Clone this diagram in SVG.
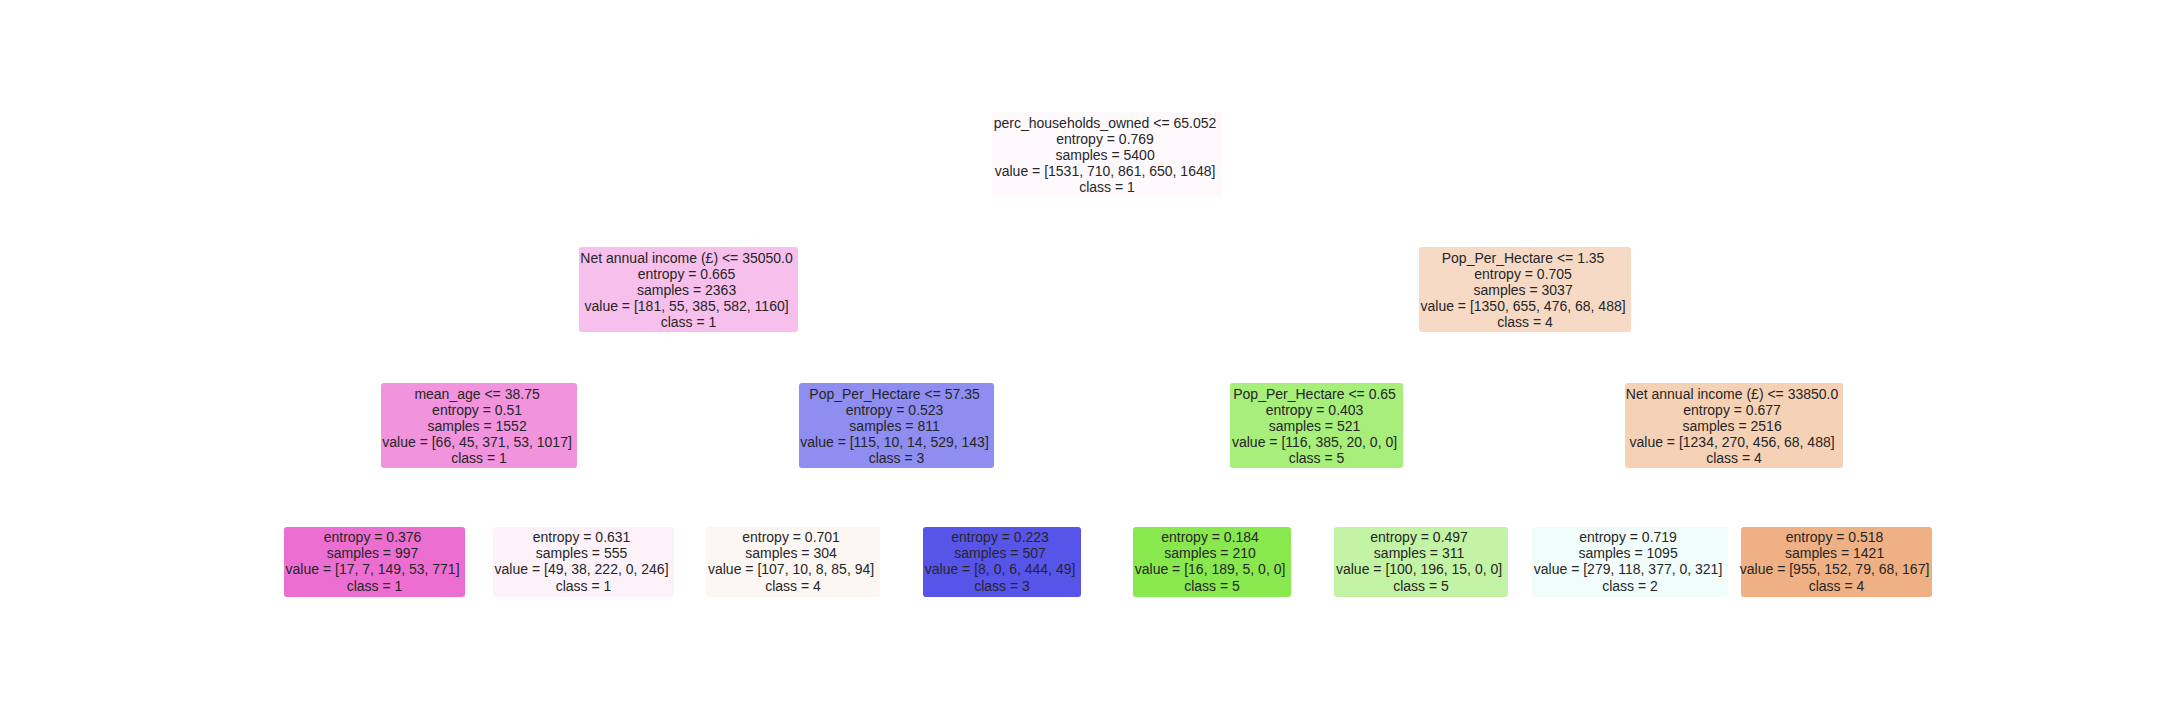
<svg xmlns="http://www.w3.org/2000/svg" width="2160" height="720" viewBox="0 0 2160 720">
  <style>
    .box { stroke: none; }
    .lbl { font-family: "Liberation Sans", Arial, sans-serif; font-size: 14px; fill: #262626; text-anchor: middle; }
  </style>
  <rect width="2160" height="720" fill="#ffffff"/>

  <!-- decision tree (depth 3); no edges are drawn between nodes -->
  <g id="connectors"></g>

  <!-- depth 0 -->
  <g id="node-root">
    <rect class="box" x="992" y="112" width="230" height="85" rx="3" fill="#fef9fd"/>
    <text class="lbl" x="1107" y="127.5">
      <tspan x="1107">perc_households_owned &lt;= 65.052</tspan>
      <tspan x="1107" dy="16.2">entropy = 0.769</tspan>
      <tspan x="1107" dy="16.2">samples = 5400</tspan>
      <tspan x="1107" dy="16.2">value = [1531, 710, 861, 650, 1648]</tspan>
      <tspan x="1107" dy="16.2">class = 1</tspan>
    </text>
  </g>

  <!-- depth 1 -->
  <g id="node-income-35050">
    <rect class="box" x="579" y="247" width="219" height="85" rx="3" fill="#f7bfeb"/>
    <text class="lbl" x="688.5" y="262.5">
      <tspan x="688.5">Net annual income (£) &lt;= 35050.0</tspan>
      <tspan x="688.5" dy="16.2">entropy = 0.665</tspan>
      <tspan x="688.5" dy="16.2">samples = 2363</tspan>
      <tspan x="688.5" dy="16.2">value = [181, 55, 385, 582, 1160]</tspan>
      <tspan x="688.5" dy="16.2">class = 1</tspan>
    </text>
  </g>
  <g id="node-pop-1_35">
    <rect class="box" x="1419" y="247" width="212" height="85" rx="3" fill="#f7dac5"/>
    <text class="lbl" x="1525" y="262.5">
      <tspan x="1525">Pop_Per_Hectare &lt;= 1.35</tspan>
      <tspan x="1525" dy="16.2">entropy = 0.705</tspan>
      <tspan x="1525" dy="16.2">samples = 3037</tspan>
      <tspan x="1525" dy="16.2">value = [1350, 655, 476, 68, 488]</tspan>
      <tspan x="1525" dy="16.2">class = 4</tspan>
    </text>
  </g>

  <!-- depth 2 -->
  <g id="node-mean-age">
    <rect class="box" x="381" y="383" width="196" height="85" rx="3" fill="#f193dd"/>
    <text class="lbl" x="479" y="398.5">
      <tspan x="479">mean_age &lt;= 38.75</tspan>
      <tspan x="479" dy="16.2">entropy = 0.51</tspan>
      <tspan x="479" dy="16.2">samples = 1552</tspan>
      <tspan x="479" dy="16.2">value = [66, 45, 371, 53, 1017]</tspan>
      <tspan x="479" dy="16.2">class = 1</tspan>
    </text>
  </g>
  <g id="node-pop-57_35">
    <rect class="box" x="799" y="383" width="195" height="85" rx="3" fill="#8e8df0"/>
    <text class="lbl" x="896.5" y="398.5">
      <tspan x="896.5">Pop_Per_Hectare &lt;= 57.35</tspan>
      <tspan x="896.5" dy="16.2">entropy = 0.523</tspan>
      <tspan x="896.5" dy="16.2">samples = 811</tspan>
      <tspan x="896.5" dy="16.2">value = [115, 10, 14, 529, 143]</tspan>
      <tspan x="896.5" dy="16.2">class = 3</tspan>
    </text>
  </g>
  <g id="node-pop-0_65">
    <rect class="box" x="1230" y="383" width="173" height="85" rx="3" fill="#a7ee7b"/>
    <text class="lbl" x="1316.5" y="398.5">
      <tspan x="1316.5">Pop_Per_Hectare &lt;= 0.65</tspan>
      <tspan x="1316.5" dy="16.2">entropy = 0.403</tspan>
      <tspan x="1316.5" dy="16.2">samples = 521</tspan>
      <tspan x="1316.5" dy="16.2">value = [116, 385, 20, 0, 0]</tspan>
      <tspan x="1316.5" dy="16.2">class = 5</tspan>
    </text>
  </g>
  <g id="node-income-33850">
    <rect class="box" x="1625" y="383" width="218" height="85" rx="3" fill="#f5d1b6"/>
    <text class="lbl" x="1734" y="398.5">
      <tspan x="1734">Net annual income (£) &lt;= 33850.0</tspan>
      <tspan x="1734" dy="16.2">entropy = 0.677</tspan>
      <tspan x="1734" dy="16.2">samples = 2516</tspan>
      <tspan x="1734" dy="16.2">value = [1234, 270, 456, 68, 488]</tspan>
      <tspan x="1734" dy="16.2">class = 4</tspan>
    </text>
  </g>

  <!-- depth 3: leaves -->
  <g id="leaf-1">
    <rect class="box" x="284" y="527" width="181" height="70" rx="3" fill="#ec6ed1"/>
    <text class="lbl" x="374.5" y="542">
      <tspan x="374.5">entropy = 0.376</tspan>
      <tspan x="374.5" dy="16.2">samples = 997</tspan>
      <tspan x="374.5" dy="16.2">value = [17, 7, 149, 53, 771]</tspan>
      <tspan x="374.5" dy="16.2">class = 1</tspan>
    </text>
  </g>
  <g id="leaf-2">
    <rect class="box" x="493" y="527" width="181" height="70" rx="3" fill="#fdf1fa"/>
    <text class="lbl" x="583.5" y="542">
      <tspan x="583.5">entropy = 0.631</tspan>
      <tspan x="583.5" dy="16.2">samples = 555</tspan>
      <tspan x="583.5" dy="16.2">value = [49, 38, 222, 0, 246]</tspan>
      <tspan x="583.5" dy="16.2">class = 1</tspan>
    </text>
  </g>
  <g id="leaf-3">
    <rect class="box" x="706" y="527" width="174" height="70" rx="3" fill="#fdf7f3"/>
    <text class="lbl" x="793" y="542">
      <tspan x="793">entropy = 0.701</tspan>
      <tspan x="793" dy="16.2">samples = 304</tspan>
      <tspan x="793" dy="16.2">value = [107, 10, 8, 85, 94]</tspan>
      <tspan x="793" dy="16.2">class = 4</tspan>
    </text>
  </g>
  <g id="leaf-4">
    <rect class="box" x="923" y="527" width="158" height="70" rx="3" fill="#5754e9"/>
    <text class="lbl" x="1002" y="542">
      <tspan x="1002">entropy = 0.223</tspan>
      <tspan x="1002" dy="16.2">samples = 507</tspan>
      <tspan x="1002" dy="16.2">value = [8, 0, 6, 444, 49]</tspan>
      <tspan x="1002" dy="16.2">class = 3</tspan>
    </text>
  </g>
  <g id="leaf-5">
    <rect class="box" x="1133" y="527" width="158" height="70" rx="3" fill="#89e84e"/>
    <text class="lbl" x="1212" y="542">
      <tspan x="1212">entropy = 0.184</tspan>
      <tspan x="1212" dy="16.2">samples = 210</tspan>
      <tspan x="1212" dy="16.2">value = [16, 189, 5, 0, 0]</tspan>
      <tspan x="1212" dy="16.2">class = 5</tspan>
    </text>
  </g>
  <g id="leaf-6">
    <rect class="box" x="1334" y="527" width="174" height="70" rx="3" fill="#c3f3a5"/>
    <text class="lbl" x="1421" y="542">
      <tspan x="1421">entropy = 0.497</tspan>
      <tspan x="1421" dy="16.2">samples = 311</tspan>
      <tspan x="1421" dy="16.2">value = [100, 196, 15, 0, 0]</tspan>
      <tspan x="1421" dy="16.2">class = 5</tspan>
    </text>
  </g>
  <g id="leaf-7">
    <rect class="box" x="1532" y="527" width="196" height="70" rx="3" fill="#f1fdfb"/>
    <text class="lbl" x="1630" y="542">
      <tspan x="1630">entropy = 0.719</tspan>
      <tspan x="1630" dy="16.2">samples = 1095</tspan>
      <tspan x="1630" dy="16.2">value = [279, 118, 377, 0, 321]</tspan>
      <tspan x="1630" dy="16.2">class = 2</tspan>
    </text>
  </g>
  <g id="leaf-8">
    <rect class="box" x="1741" y="527" width="191" height="70" rx="3" fill="#efb083"/>
    <text class="lbl" x="1836.5" y="542">
      <tspan x="1836.5">entropy = 0.518</tspan>
      <tspan x="1836.5" dy="16.2">samples = 1421</tspan>
      <tspan x="1836.5" dy="16.2">value = [955, 152, 79, 68, 167]</tspan>
      <tspan x="1836.5" dy="16.2">class = 4</tspan>
    </text>
  </g>
</svg>
